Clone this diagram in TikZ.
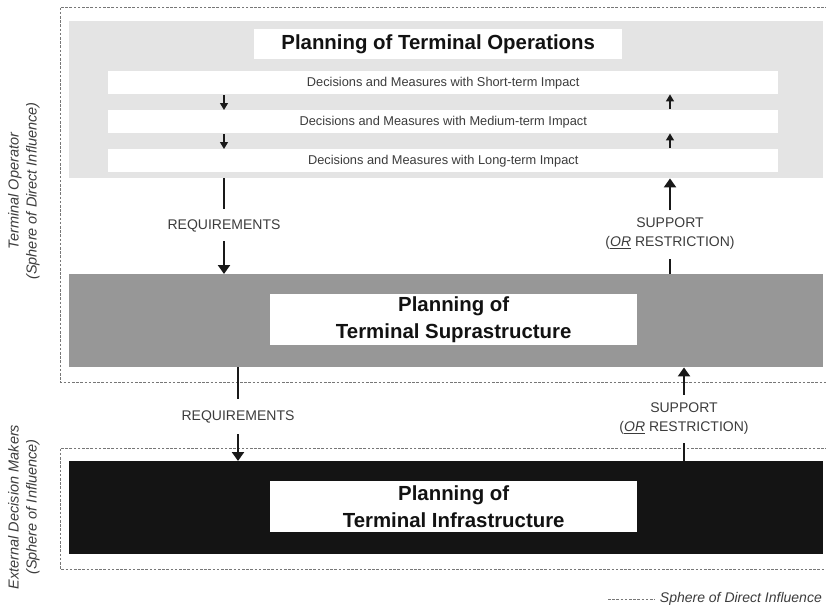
\documentclass[tikz,border=0pt]{standalone}
\usepackage{fontspec}
\setmainfont{Liberation Sans}
\usetikzlibrary{arrows.meta}
\definecolor{lightbg}{HTML}{E4E4E4}
\definecolor{midbg}{HTML}{979797}
\definecolor{darkbg}{HTML}{141414}
\definecolor{txtgray}{HTML}{3C3C3C}
\definecolor{dashgray}{HTML}{777777}
\begin{document}
\begin{tikzpicture}[x=1pt,y=-1pt,
  blk/.style={inner sep=0pt, anchor=north west, draw=none},
  titlebox/.style={blk, fill=white, align=center, text=black!93, font=\fontsize{20.4}{27}\selectfont\bfseries},
  rowbox/.style={blk, fill=white, minimum width=670pt, minimum height=23pt, text=txtgray, font=\fontsize{12.8}{15}\selectfont},
  lbl/.style={text=txtgray, font=\fontsize{14}{19}\selectfont, align=center, inner sep=0pt},
  sidelbl/.style={text=txtgray, font=\fontsize{14.5}{18}\selectfont\itshape, align=center, rotate=90, inner sep=0pt},
  sphere/.style={draw=dashgray, line width=0.9pt, dash pattern=on 2.6pt off 1.6pt},
  barr/.style={line width=2.2pt, draw=black!90, -{Triangle[width=12pt,length=9pt]}},
  bline/.style={line width=2.2pt, draw=black!90},
  sarr/.style={line width=1.3pt, draw=black!90, -{Triangle[width=8pt,length=7pt]}}
]
\useasboundingbox (0,0) rectangle (826,608);
% spheres of influence
\draw[sphere] (828,7) -- (60,7) -- (60,382) -- (828,382);
\draw[sphere] (828,448) -- (60,448) -- (60,569) -- (828,569);
% operations
\node[blk, fill=lightbg, minimum width=754pt, minimum height=157pt] (ops) at (69,21) {};
\node[titlebox, minimum width=368pt, minimum height=30pt] (opstitle) at (254,29) {Planning of Terminal Operations};
\node[rowbox] (row1) at (108,71) {Decisions and Measures with Short-term Impact};
\node[rowbox] (row2) at (108,110) {Decisions and Measures with Medium-term Impact};
\node[rowbox] (row3) at (108,149) {Decisions and Measures with Long-term Impact};
% suprastructure
\node[blk, fill=midbg, minimum width=754pt, minimum height=93pt] (supra) at (69,274) {};
\node[titlebox, minimum width=367pt, minimum height=51pt] (supratitle) at (270,294) {Planning of\\Terminal Suprastructure};
% infrastructure
\node[blk, fill=darkbg, minimum width=754pt, minimum height=93pt] (infra) at (69,461) {};
\node[titlebox, minimum width=367pt, minimum height=51pt] (infratitle) at (270,481) {Planning of\\Terminal Infrastructure};
% columns
\coordinate (colA) at (224,0);
\coordinate (colB) at (670,0);
\coordinate (colC) at (238,0);
\coordinate (colD) at (684,0);
% small arrows inside operations
\draw[sarr, shorten <=1pt] (row1.south -| colA) -- (row2.north -| colA);
\draw[sarr, shorten <=1pt] (row2.south -| colA) -- (row3.north -| colA);
\draw[sarr, shorten <=1pt] (row3.north -| colB) -- (row2.south -| colB);
\draw[sarr, shorten <=1pt] (row2.north -| colB) -- (row1.south -| colB);
% requirements / support between operations and suprastructure
\node[lbl] (req1) at (224,226) {REQUIREMENTS};
\draw[bline] (ops.south -| colA) -- ([yshift=11pt]req1.north);
\draw[barr] ([yshift=-9pt]req1.south) -- (supra.north -| colA);
\node[lbl] (sup1) at (670,233.5) {SUPPORT\\(\underline{\textit{OR}} RESTRICTION)};
\draw[bline] (supra.north -| colB) -- ([yshift=-9pt]sup1.south);
\draw[barr] ([yshift=7pt]sup1.north) -- (ops.south -| colB);
% requirements / support between suprastructure and infrastructure
\node[lbl] (req2) at (238,417) {REQUIREMENTS};
\draw[bline] (supra.south -| colC) -- ([yshift=12pt]req2.north);
\draw[barr] ([yshift=-11pt]req2.south) -- (infra.north -| colC);
\node[lbl] (sup2) at (684,419) {SUPPORT\\(\underline{\textit{OR}} RESTRICTION)};
\draw[bline] (infra.north -| colD) -- ([yshift=-8pt]sup2.south);
\draw[barr] ([yshift=8pt]sup2.north) -- (supra.south -| colD);
% side labels
\node[sidelbl] (opside) at (24,191) {Terminal Operator\\(Sphere of Direct Influence)};
\node[sidelbl] (extside) at (24,507) {External Decision Makers\\(Sphere of Influence)};
% legend
\node[text=txtgray, font=\fontsize{14}{17}\selectfont\itshape, anchor=east, inner sep=0pt] (legend) at (822,599) {Sphere of Direct Influence};
\coordinate (legstart) at (608,599);
\draw[sphere] (legstart) -- ([xshift=-5pt]legend.west |- legstart);
\end{tikzpicture}
\end{document}
